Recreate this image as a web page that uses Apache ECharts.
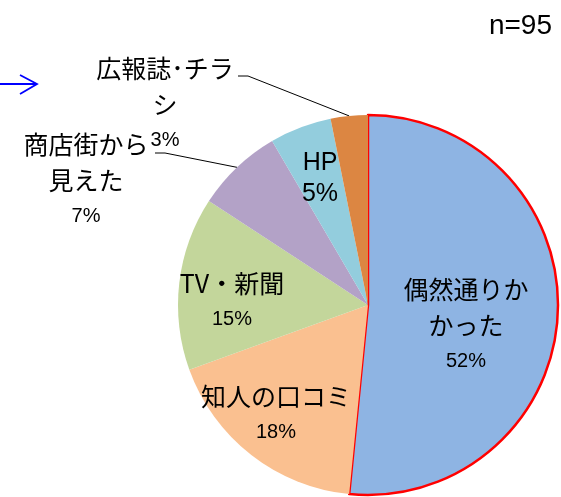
<!DOCTYPE html>
<html style="height: 100%">
<head>
<meta charset="utf-8">
<script src="https://cdn.jsdelivr.net/npm/echarts@6/dist/echarts.min.js"></script>
</head>
<body style="height: 100%; margin: 0; background: #fff">
<div id="container" style="width: 561px; height: 497px"></div>
<script type="text/javascript">
// 回答項目と人数 (n=95)
var categories = ['偶然通りかかった', '知人の口コミ', 'TV・新聞', '商店街から見えた', 'HP', '広報誌･チラシ'];
var counts = [49, 17, 14, 7, 5, 3];
// 改行位置 (0 = 改行なし)
var breakAt = [5, 0, 0, 5, 0, 6];
var colors = ['#8EB4E3', '#FAC090', '#C3D69B', '#B3A2C7', '#93CDDD', '#DC8642'];
// ラベルの中心位置
var labelPos = [[466, 325], [276, 414], [232, 301], [86, 180], [320, 179], [165, 104]];
var outside = [false, false, false, true, false, true];
// 引き出し線のラベル側の端
var leaderEnd = [null, null, null, [155, 153], null, [238, 76]];

var dom = document.getElementById('container');
var myChart = echarts.init(dom);

var pieData = [];
for (var i = 0; i < categories.length; i++) {
    var item = {
        name: categories[i],
        value: counts[i],
        itemStyle: { color: colors[i] },
        label: { position: outside[i] ? 'outside' : 'inside' },
        labelLine: { show: outside[i] }
    };
    if (i === 0) {
        item.itemStyle.borderColor = '#FF0000';
        item.itemStyle.borderWidth = 2.5;
    }
    pieData.push(item);
}

var option = {
    backgroundColor: '#ffffff',
    animation: false,
    title: {
        text: 'n=95',
        right: 4,
        top: 7,
        textStyle: {
            fontFamily: 'Liberation Sans, Arial, sans-serif',
            fontSize: 28,
            fontWeight: 'normal',
            color: '#000'
        }
    },
    graphic: [
        {
            type: 'polyline',
            shape: { points: [[0, 84], [37, 84]] },
            style: { stroke: '#0000FF', lineWidth: 1.8, fill: null }
        },
        {
            type: 'polyline',
            shape: { points: [[20, 75], [37, 84], [20, 94]] },
            style: { stroke: '#0000FF', lineWidth: 1.8, fill: null }
        }
    ],
    series: [{
        type: 'pie',
        center: [368, 305],
        radius: [0, 190],
        startAngle: 90,
        clockwise: true,
        percentPrecision: 0,
        data: pieData,
        label: {
            color: '#000',
            formatter: function (p) {
                var n = p.name;
                var b = breakAt[p.dataIndex];
                if (b > 0) {
                    n = n.slice(0, b) + '\n' + n.slice(b);
                }
                var lines = n.split('\n');
                var nameStyle = p.dataIndex === 4 ? 'h' : 'n';
                var pctStyle = p.dataIndex === 4 ? 'h' : 'p';
                var out = [];
                for (var k = 0; k < lines.length; k++) {
                    out.push('{' + nameStyle + '|' + lines[k] + '}');
                }
                out.push('{' + pctStyle + '|' + p.percent + '%}');
                return out.join('\n');
            },
            rich: {
                n: {
                    fontFamily: 'Noto Sans CJK JP',
                    fontSize: 25,
                    lineHeight: 36,
                    color: '#000',
                    align: 'center'
                },
                p: {
                    fontFamily: 'Liberation Sans, Arial, sans-serif',
                    fontSize: 20,
                    lineHeight: 36,
                    color: '#000',
                    align: 'center'
                },
                h: {
                    fontFamily: 'Liberation Sans, Arial, sans-serif',
                    fontSize: 25,
                    lineHeight: 31,
                    color: '#000',
                    align: 'center'
                }
            }
        },
        labelLine: {
            length: 15,
            length2: 10,
            lineStyle: { color: '#000', width: 1 }
        },
        labelLayout: function (params) {
            var i = params.dataIndex;
            var p = labelPos[i];
            var res = { x: p[0], y: p[1], align: 'center', verticalAlign: 'middle' };
            if (leaderEnd[i] && params.labelLinePoints) {
                var e = leaderEnd[i];
                res.labelLinePoints = [
                    params.labelLinePoints[0],
                    [e[0] + 10, e[1]],
                    [e[0], e[1]]
                ];
            }
            return res;
        }
    }]
};
myChart.setOption(option, true);
</script>
</body>
</html>
